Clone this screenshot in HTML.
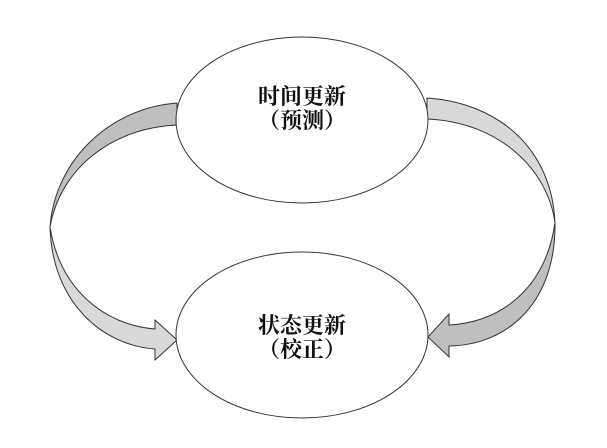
<!DOCTYPE html>
<html><head><meta charset="utf-8"><style>
html,body{margin:0;padding:0;background:#fff;width:607px;height:448px;overflow:hidden}
text{font-family:"Liberation Serif","Noto Serif CJK SC",serif;font-size:22px;font-weight:bold;fill:#111}
</style></head><body>
<svg width="607" height="448" viewBox="0 0 607 448" xmlns="http://www.w3.org/2000/svg">
<g stroke="#333" stroke-width="1">
<path d="M177,103 C110,108 55,160 50,227 C60,170 110,128 177,125 Z" fill="#bfbfbf"/>
<path d="M50,227 C52,300 100,345 155,349 L155,360 L177,340 L155,320 L155,329 C105,325 60,290 50,227 Z" fill="#d9d9d9"/>
<path d="M427,98 C500,103 552,150 555,223 C548,170 500,122 427,119 Z" fill="#d9d9d9"/>
<path d="M555,223 C556,300 510,345 449,346 L449,357 L428,337 L449,314 L449,325 C500,322 545,290 555,223 Z" fill="#bfbfbf"/>
<ellipse cx="302" cy="120" rx="126" ry="83" fill="#fff"/>
<ellipse cx="302" cy="335" rx="126" ry="83" fill="#fff"/>
</g>
<text x="302" y="104" text-anchor="middle">时间更新</text>
<text x="302" y="128" text-anchor="middle">（预测）</text>
<text x="302" y="333" text-anchor="middle">状态更新</text>
<text x="302" y="357" text-anchor="middle">（校正）</text>
</svg>
</body></html>
